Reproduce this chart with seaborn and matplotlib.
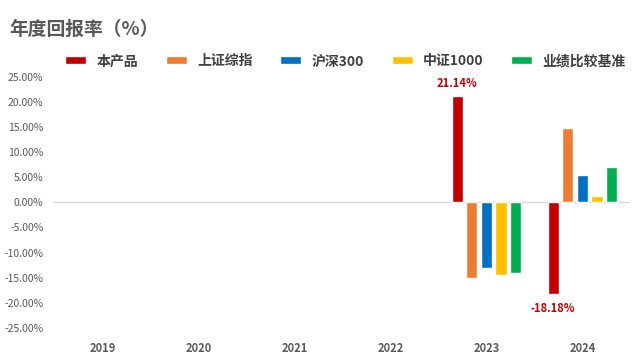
import matplotlib
matplotlib.use("Agg")
import matplotlib.pyplot as plt
import seaborn as sns
import pandas as pd
import numpy as np

# data
years = ["2019", "2020", "2021", "2022", "2023", "2024"]
series = ["本产品", "上证综指", "沪深300", "中证1000", "业绩比较基准"]
product = [np.nan, np.nan, np.nan, np.nan, 21.14, -18.18]
sse = [np.nan, np.nan, np.nan, np.nan, -15.1, 14.8]
csi300 = [np.nan, np.nan, np.nan, np.nan, -13.1, 5.4]
csi1000 = [np.nan, np.nan, np.nan, np.nan, -14.4, 1.3]
benchmark = [np.nan, np.nan, np.nan, np.nan, -14.0, 7.0]
colors = ["#C00000", "#ED7D31", "#0070C0", "#FFC000", "#00B050"]
yticks = [-25, -20, -15, -10, -5, 0, 5, 10, 15, 20, 25]

df = pd.DataFrame({
    "year": years * 5,
    "series": np.repeat(series, len(years)),
    "value": product + sse + csi300 + csi1000 + benchmark,
})

sns.set_style("white")
plt.rcParams["font.family"] = ["Noto Sans CJK SC", "DejaVu Sans"]

fig = plt.figure(figsize=(6.4, 3.61), dpi=100)
ax = fig.add_axes([0.085, 0.092, 0.9, 0.695])

sns.barplot(data=df, x="year", y="value", hue="series",
            order=years, hue_order=series, palette=colors, saturation=1,
            width=0.76, gap=0.22, ax=ax, legend=True)

ax.set_ylim(-25, 25)
ax.set_xlim(-0.5, 5.5)
ax.set_yticks(yticks)
ax.set_yticklabels([f"{v:.2f}%" for v in yticks], color="#595959", fontsize=7.5)
ax.tick_params(axis="y", length=0, pad=8)
ax.tick_params(axis="x", length=0, pad=10)
for lab in ax.get_xticklabels():
    lab.set_fontweight("bold")
    lab.set_color("#595959")
    lab.set_fontsize(8)
ax.set_xlabel("")
ax.set_ylabel("")
for s in ax.spines.values():
    s.set_visible(False)
ax.axhline(0, color="#D9D9D9", lw=1, zorder=0)

# labels on the product bars
ax.text(4 - 0.304, 21.14 + 1.3, "21.14%", color="#C00000", fontsize=8,
        fontweight="bold", ha="center", va="bottom")
ax.text(5 - 0.304, -18.18 - 1.6, "-18.18%", color="#C00000", fontsize=8,
        fontweight="bold", ha="center", va="top")

handles, labels = ax.get_legend_handles_labels()
ax.get_legend().remove()
fig.legend(handles, labels, loc="center", bbox_to_anchor=(0.54, 0.83), ncol=5,
           frameon=False, handlelength=1.5, handleheight=0.5,
           columnspacing=2.0, handletextpad=0.75,
           prop={"weight": "bold", "size": 10})
for t in fig.legends[0].get_texts():
    t.set_color("#404040")

fig.text(0.014, 0.918, "年度回报率（%）", fontsize=13.5, fontweight="bold",
         color="#595959", ha="left", va="center")

fig.savefig("out.png", dpi=100)
